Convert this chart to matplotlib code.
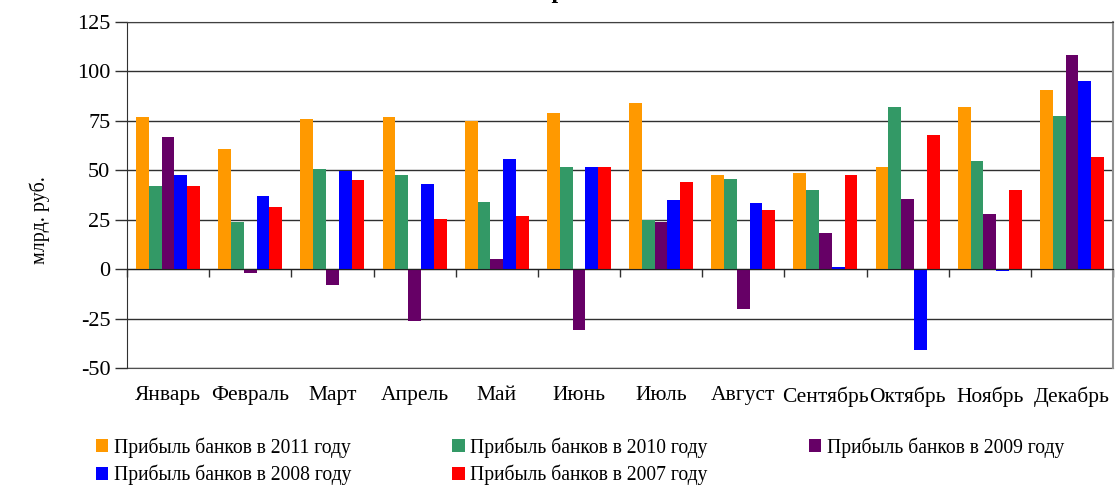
import numpy as np
import matplotlib
matplotlib.use("Agg")
import matplotlib.pyplot as plt
from matplotlib.patches import Patch

plt.rcParams['font.family'] = ['Liberation Serif', 'DejaVu Serif']
plt.rcParams['axes.unicode_minus'] = False

months = ["Январь", "Февраль", "Март", "Апрель", "Май", "Июнь",
          "Июль", "Август", "Сентябрь", "Октябрь", "Ноябрь", "Декабрь"]

profit_2011 = [77, 61, 76, 77, 75, 79, 84, 47.5, 48.5, 51.5, 82, 90.5]
profit_2010 = [42, 24, 50.5, 47.5, 34, 51.5, 25, 45.5, 40, 82, 54.5, 77.5]
profit_2009 = [67, -2, -8, -26, 5, -31, 24, -20, 18.5, 35.5, 28, 108.5]
profit_2008 = [47.5, 37, 49.5, 43, 55.5, 51.5, 35, 33.5, 1, -41, -1, 95]
profit_2007 = [42, 31.5, 45, 25.5, 27, 51.5, 44, 30, 47.5, 68, 40, 56.5]

series = [
    ("Прибыль банков в 2011 году", profit_2011, "#FF9900"),
    ("Прибыль банков в 2010 году", profit_2010, "#339966"),
    ("Прибыль банков в 2009 году", profit_2009, "#660066"),
    ("Прибыль банков в 2008 году", profit_2008, "#0000FF"),
    ("Прибыль банков в 2007 году", profit_2007, "#FF0000"),
]

W, H = 1115, 487
fig = plt.figure(figsize=(W / 100, H / 100), dpi=100)
ax = fig.add_axes([127 / W, 1 - 368 / H, (1113 - 127) / W, (368 - 22) / H])

x = np.arange(len(months))
bw = 0.156
n = len(series)
for i, (name, vals, col) in enumerate(series):
    ax.bar(x + (i - (n - 1) / 2) * bw, vals, width=bw, color=col,
           label=name, zorder=3, linewidth=0)

ax.set_xlim(-0.5, len(months) - 0.5)
ax.set_ylim(-50, 125)
ax.set_yticks(np.arange(-50, 126, 25))
ax.yaxis.grid(True, color="#303030", linewidth=1.0, zorder=1)
ax.tick_params(axis="y", direction="out", length=9, width=1,
               labelsize=16, pad=3, color="#303030")

# horizontal category axis through zero with ticks between months
ax.spines["bottom"].set_position(("data", 0))
ax.spines["bottom"].set_color("#202020")
ax.spines["bottom"].set_zorder(4)
ax.spines["left"].set_color("#303030")
ax.spines["top"].set_color("#404040")
ax.spines["right"].set_color("#909090")
ax.spines["right"].set_linewidth(1.5)
ax.set_xticks(np.arange(-0.5, len(months) - 0.4, 1))
ax.tick_params(axis="x", direction="out", length=6, width=1,
               labelbottom=False, color="#303030")

# month names along the lower edge of the plot
sec = ax.secondary_xaxis(0)
sec.set_xticks(x)
sec.set_xticklabels(months)
sec.tick_params(length=0, labelsize=15.5, pad=13)
sec.spines["bottom"].set_color("#505050")

fig.text(40 / W, 1 - 220 / H, "млрд. руб.", rotation=90,
         ha="center", va="center", fontsize=14.5)

fig.text(533 / W, 1 + 2 / H, "Прибыль банков",
         ha="left", va="baseline", fontsize=17, fontweight="bold")

handles = [Patch(facecolor=c, label=nm) for nm, _, c in series]
order = [0, 3, 1, 4, 2]
fig.legend([handles[k] for k in order], [series[k][0] for k in order],
           ncol=3, loc="upper left", bbox_to_anchor=(96 / W, 1 - 437 / H),
           frameon=False, fontsize=14.1, handlelength=0.62, handleheight=0.62,
           handletextpad=0.3, columnspacing=5.15, labelspacing=0.38,
           borderaxespad=0, borderpad=0)

fig.savefig("out.png", dpi=100)
